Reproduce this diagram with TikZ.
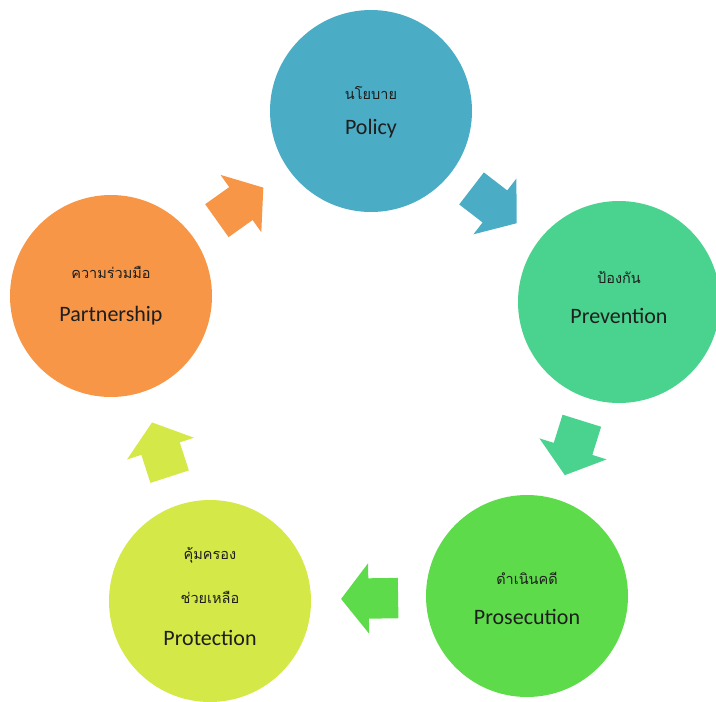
\documentclass[tikz,border=0pt]{standalone}
\usepackage{fontspec}
\setmainfont{Carlito}
\newfontfamily\thaifont[Script=Thai]{Loma}
\usetikzlibrary{shapes.arrows}
\definecolor{cPolicy}{RGB}{75,172,198}
\definecolor{cPrev}{RGB}{74,210,143}
\definecolor{cPros}{RGB}{94,219,74}
\definecolor{cProt}{RGB}{212,232,72}
\definecolor{cPart}{RGB}{247,150,70}
\definecolor{txt}{RGB}{30,30,30}
\tikzset{
  disc/.style={circle, minimum size=202pt, inner sep=0pt, draw=none, fill=#1},
  entxt/.style={font=\fontsize{22}{24}\selectfont, text=txt, inner sep=0pt},
  thtxt/.style={font=\thaifont\fontsize{14.5}{16}\selectfont, text=txt, inner sep=0pt},
  flow/.style={single arrow, draw=none, fill=#1, minimum height=57pt,
    inner xsep=0pt, inner ysep=20pt,
    single arrow head extend=15pt, single arrow tip angle=104,
    sloped, allow upside down, midway, xshift=-9pt}
}
\begin{document}
\begin{tikzpicture}[x=1pt,y=-1pt]
\useasboundingbox (0,0) rectangle (716,702);
\node[disc=cPolicy] (policy) at (371,111) {};
\node[disc=cPrev]   (prev)   at (619,302) {};
\node[disc=cPros]   (pros)   at (527,596) {};
\node[disc=cProt]   (prot)   at (210,601) {};
\node[disc=cPart]   (part)   at (111,296) {};

\node[thtxt] (policyT) at ([yshift=18pt]policy.center) {นโยบาย};
\node[entxt] (policyE) at ([yshift=-18pt]policy.center) {Policy};
\node[thtxt] (prevT) at ([yshift=25pt]prev.center) {ป้องกัน};
\node[entxt] (prevE) at ([yshift=-14pt]prev.center) {Prevention};
\node[thtxt] (prosT) at ([yshift=18pt]pros.center) {ดำเนินคดี};
\node[entxt] (prosE) at ([yshift=-21pt]pros.center) {Prosecution};
\node[thtxt] (protT1) at ([yshift=46pt]prot.center) {คุ้มครอง};
\node[thtxt] (protT2) at ([yshift=4pt]prot.center) {ช่วยเหลือ};
\node[entxt] (protE) at ([yshift=-37pt]prot.center) {Protection};
\node[thtxt] (partT) at ([yshift=24pt]part.center) {ความร่วมมือ};
\node[entxt] (partE) at ([yshift=-20pt]part.center) {Partnership};

\path (policy.center) -- (prev.center) node[flow=cPolicy] (a1) {};
\path (prev.center) -- (pros.center) node[flow=cPrev] (a2) {};
\path (pros.center) -- (prot.center) node[flow=cPros] (a3) {};
\path (prot.center) -- (part.center) node[flow=cProt] (a4) {};
\path (part.center) -- (policy.center) node[flow=cPart] (a5) {};
\end{tikzpicture}
\end{document}
